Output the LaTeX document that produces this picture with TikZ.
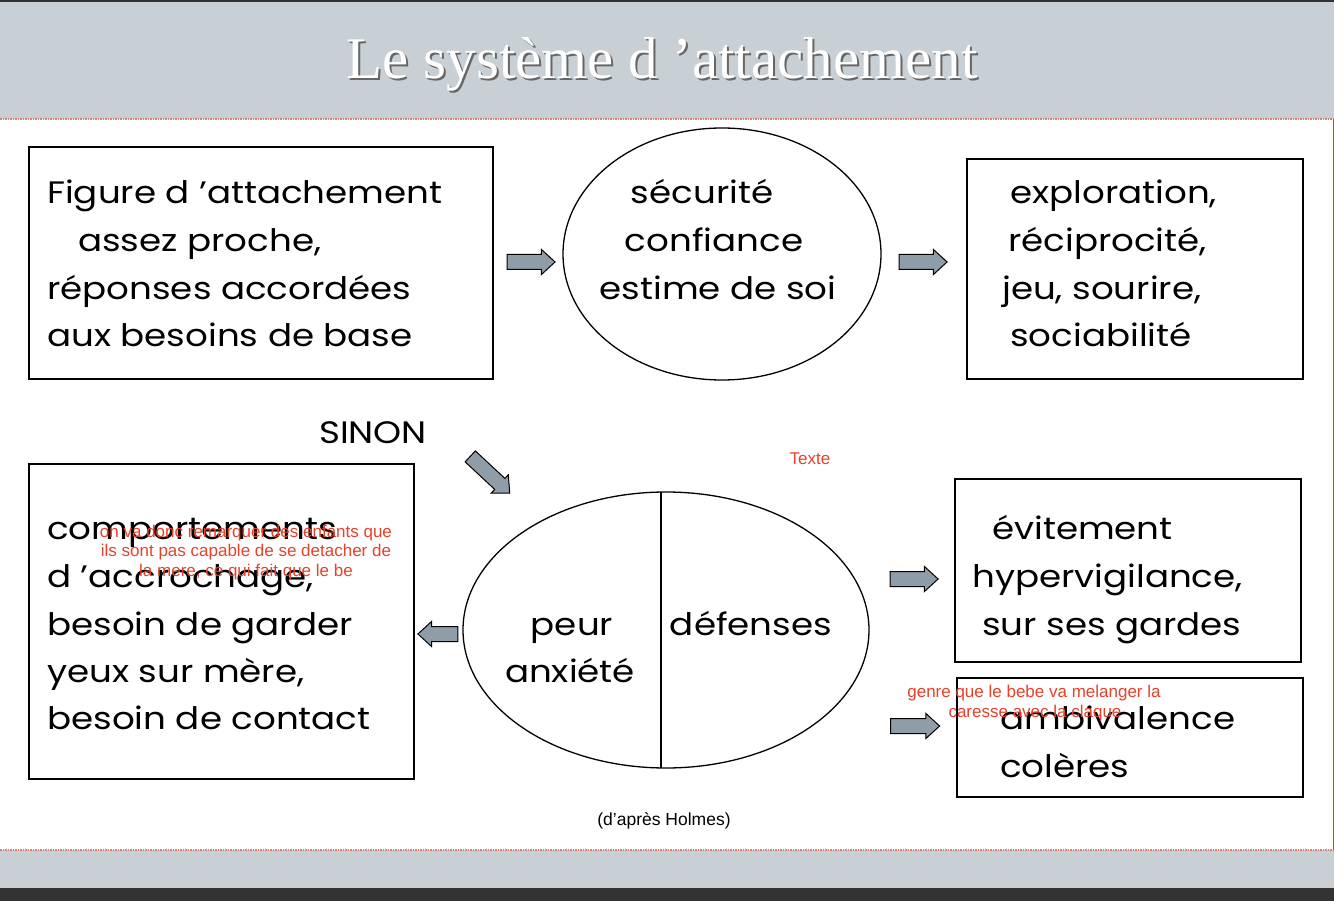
\documentclass[tikz,border=0pt]{standalone}
\usepackage{fontspec}
\setmainfont{Poppins}[FakeStretch=1.15]
\newfontfamily\titlefont{Liberation Serif}
\newfontfamily\notefont{Liberation Sans}
\usetikzlibrary{shapes.geometric,shapes.arrows}
\definecolor{headgray}{HTML}{C8D0D6}
\definecolor{arrowfill}{HTML}{8E9DA8}
\definecolor{notered}{HTML}{E8412C}
\definecolor{dashred}{HTML}{D98068}
\definecolor{darkband}{HTML}{333333}
\tikzset{
  box/.style={draw=black, line width=1.3pt, inner sep=0pt},
  oval/.style={draw=black, line width=1.3pt, ellipse, inner sep=0pt},
  blockarrow/.style={draw=black, line width=1pt, fill=arrowfill, single arrow,
    single arrow head extend=5pt, single arrow tip angle=85, inner xsep=0pt,
    inner ysep=7pt, minimum height=#1},
  bigtxt/.style={anchor=base west, inner sep=0pt, font=\fontsize{31}{36}\selectfont},
  bigc/.style={anchor=base, inner sep=0pt, font=\fontsize{31}{36}\selectfont},
  note/.style={anchor=base, inner sep=0pt, text=notered, font=\notefont\fontsize{17}{19}\selectfont},
  sepline/.style={dashred, line width=1.2pt, dash pattern=on 1.5pt off 1pt},
}
\begin{document}
\begin{tikzpicture}[x=1pt, y=-1pt]
\useasboundingbox (0,0) rectangle (1334,901);
% background bands
\fill[white] (0,0) rectangle (1334,901);
\fill[headgray] (0,0) rectangle (1334,119);
\fill[darkband] (0,0) rectangle (1334,2);
\fill[headgray] (0,850) rectangle (1334,888);
\fill[darkband] (0,888) rectangle (1334,901);
\draw[sepline] (0,119) -- (1334,119);
\draw[sepline] (0,850) -- (1334,850);
\draw[dashred!70!black, line width=1pt] (1333,119) -- (1333,850);
% title
\node[anchor=base, inner sep=0pt, text=black!60, font=\titlefont\fontsize{59}{62}\selectfont] (titleshadow) at (664,81) {Le système d ’attachement};
\node[anchor=base, inner sep=0pt, text=white, font=\titlefont\fontsize{59}{62}\selectfont] (title) at (662,79) {Le système d ’attachement};
% top row shapes
\node[box, minimum width=464, minimum height=232] (b1) at (261,263) {};
\node[oval, minimum width=318, minimum height=252] (e1) at (722,254) {};
\node[box, minimum width=336, minimum height=220] (b3) at (1135,269) {};
% top arrows
\node[blockarrow=48] (a1) at (527,262) {};
\node[blockarrow=48] (a2) at (919,262) {};
% top texts
\node[bigtxt] (t11) at (47,204) {Figure d ’attachement};
\node[bigtxt] (t12) at (78,252) {assez proche,};
\node[bigtxt] (t13) at (47,300) {réponses accordées};
\node[bigtxt] (t14) at (47,347) {aux besoins de base};
\node[bigc] (t21) at (702,204) {sécurité};
\node[bigc] (t22) at (714,252) {confiance};
\node[bigc] (t23) at (718,300) {estime de soi};
\node[bigtxt] (t31) at (1010,204) {exploration,};
\node[bigtxt] (t32) at (1008,252) {réciprocité,};
\node[bigtxt] (t33) at (1002,300) {jeu, sourire,};
\node[bigtxt] (t34) at (1010,347) {sociabilité};
% SINON
\node[bigc] (sinon) at (373,443) {SINON};
\node[blockarrow=54, rotate=-43] (a3) at (487,472) {};
\node[note] (texte) at (810,464) {Texte};
% bottom shapes
\node[box, minimum width=385, minimum height=315] (b4) at (221.5,621.5) {};
\node[oval, minimum width=406, minimum height=276] (e2) at (666,630) {};
\draw[line width=1.3pt] (661,492) coordinate (vtop) -- (661,768) coordinate (vbot);
\node[box, minimum width=346, minimum height=183] (b5) at (1128,570.5) {};
\node[box, minimum width=346, minimum height=119] (b6) at (1130,737.5) {};
% bottom arrows
\node[blockarrow=40, rotate=180] (a4) at (442,634) {};
\node[blockarrow=48] (a5) at (910,579) {};
\node[blockarrow=49] (a6) at (911,726) {};
% bottom texts
\node[bigtxt] (t41) at (47,539) {comportements};
\node[bigtxt] (t42) at (47,587) {d ’accrochage,};
\node[bigtxt] (t43) at (47,635) {besoin de garder};
\node[bigtxt] (t44) at (47,682) {yeux sur mère,};
\node[bigtxt] (t45) at (47,729) {besoin de contact};
\node[bigc] (t51) at (572,635) {peur};
\node[bigc] (t52) at (570,682) {anxiété};
\node[bigc] (t53) at (751,635) {défenses};
\node[bigtxt] (t61) at (992,539) {évitement};
\node[bigtxt] (t62) at (972,587) {hypervigilance,};
\node[bigtxt] (t63) at (982,635) {sur ses gardes};
\node[bigtxt] (t71) at (1000,729) {ambivalence};
\node[bigtxt] (t72) at (1000,777) {colères};
% notes
\node[note] (n1) at (246,537) {on va donc remarquer des enfants que};
\node[note] (n2) at (246,556) {ils sont pas capable de se detacher de};
\node[note] (n3) at (246,576) {la mere, ce qui fait que le be};
\node[note] (n4) at (1034,697) {genre que le bebe va melanger la};
\node[note] (n5) at (1035,717) {caresse avec la claque};
% source
\node[anchor=base, inner sep=0pt, font=\notefont\fontsize{17.5}{19}\selectfont] (src) at (664,825) {(d’après Holmes)};
\end{tikzpicture}
\end{document}
